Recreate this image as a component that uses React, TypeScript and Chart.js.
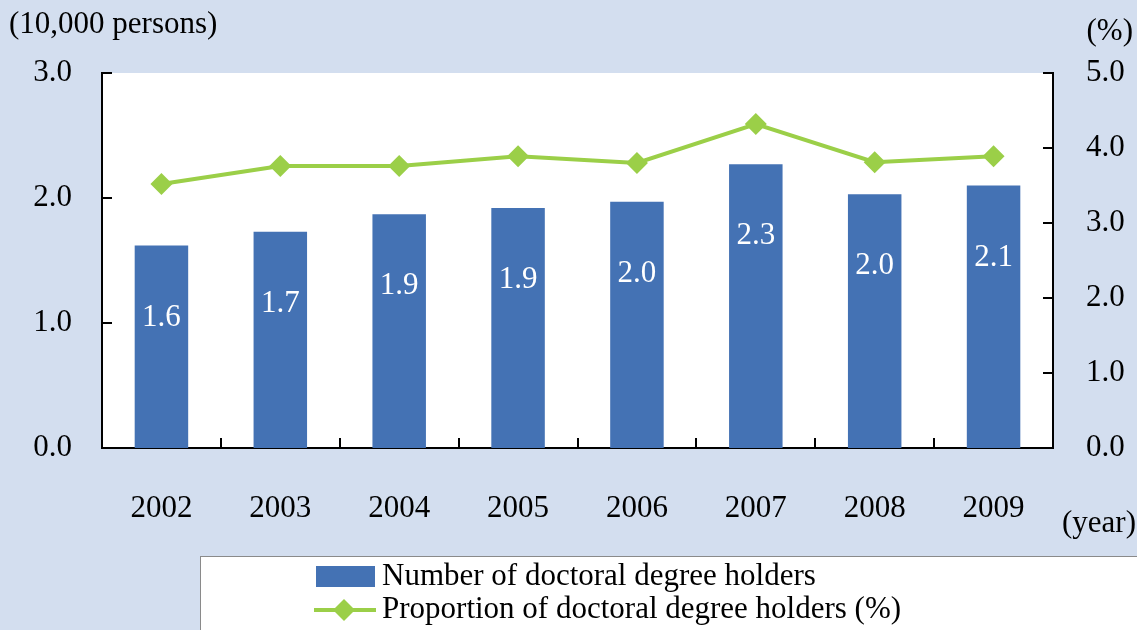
import React, { useEffect, useRef } from "react";
import { Chart, registerables } from "chart.js";
Chart.register(...registerables);

const years = ["2002", "2003", "2004", "2005", "2006", "2007", "2008", "2009"];
const holders = [1.62, 1.73, 1.87, 1.92, 1.97, 2.27, 2.03, 2.1];
const holderLabels = ["1.6", "1.7", "1.9", "1.9", "2.0", "2.3", "2.0", "2.1"];
const proportion = [3.52, 3.76, 3.76, 3.89, 3.8, 4.32, 3.81, 3.89];
const barLabel = "Number of doctoral degree holders";
const lineLabel = "Proportion of doctoral degree holders (%)";
const leftUnit = "(10,000 persons)";
const rightUnit = "(%)";
const xUnit = "(year)";

const BG = "#D3DEEF";
const BAR = "#4472B4";
const LINE = "#9BCF48";
const FONT = "Liberation Serif";
const FS = 31;

export default function App() {
  const ref = useRef<HTMLCanvasElement | null>(null);
  useEffect(() => {
    if (!ref.current) return;
    const font = { family: FONT, size: FS };
    const deco = {
      id: "deco",
      beforeDraw(chart: any) {
        const { ctx, chartArea: a } = chart;
        ctx.save();
        ctx.fillStyle = BG;
        ctx.fillRect(0, 0, chart.width, chart.height);
        ctx.fillStyle = "#fff";
        ctx.fillRect(a.left, a.top, a.right - a.left, a.bottom - a.top);
        ctx.restore();
      },
      afterDatasetsDraw(chart: any) {
        const { ctx } = chart;
        const meta = chart.getDatasetMeta(0);
        ctx.save();
        ctx.fillStyle = "#fff";
        ctx.font = `${FS}px "${FONT}"`;
        ctx.textAlign = "center";
        ctx.textBaseline = "middle";
        meta.data.forEach((el: any, i: number) => {
          ctx.fillText(holderLabels[i], el.x, el.y + 72);
        });
        ctx.restore();
      },
      afterDraw(chart: any) {
        const { ctx, chartArea: a, scales } = chart;
        ctx.save();
        ctx.strokeStyle = "#000";
        ctx.lineWidth = 2;
        ctx.beginPath();
        const n = years.length;
        const w = (a.right - a.left) / n;
        for (let i = 1; i < n; i++) {
          const x = Math.round(a.left + i * w);
          ctx.moveTo(x, a.bottom);
          ctx.lineTo(x, a.bottom - 10);
        }
        scales.y.ticks.forEach((t: any) => {
          const y = Math.round(scales.y.getPixelForValue(t.value));
          ctx.moveTo(a.left, y);
          ctx.lineTo(a.left + 10, y);
        });
        scales.y1.ticks.forEach((t: any) => {
          const y = Math.round(scales.y1.getPixelForValue(t.value));
          ctx.moveTo(a.right, y);
          ctx.lineTo(a.right - 10, y);
        });
        ctx.stroke();

        ctx.fillStyle = "#000";
        ctx.font = `${FS}px "${FONT}"`;
        ctx.textBaseline = "middle";
        ctx.textAlign = "left";
        ctx.fillText(leftUnit, 9, 25);
        ctx.fillText(xUnit, 1062, 524);
        ctx.textAlign = "right";
        ctx.fillText(rightUnit, 1133, 32);

        // legend
        ctx.fillStyle = "#fff";
        ctx.fillRect(200, 556, 1000, 100);
        ctx.strokeStyle = "#8a8a8a";
        ctx.lineWidth = 1;
        ctx.strokeRect(200.5, 556.5, 1000, 100);
        ctx.fillStyle = BAR;
        ctx.fillRect(316, 566, 59, 21);
        ctx.strokeStyle = LINE;
        ctx.lineWidth = 4;
        ctx.beginPath();
        ctx.moveTo(314, 610);
        ctx.lineTo(376, 610);
        ctx.stroke();
        ctx.fillStyle = LINE;
        ctx.beginPath();
        ctx.moveTo(344, 599);
        ctx.lineTo(355, 610);
        ctx.lineTo(344, 621);
        ctx.lineTo(333, 610);
        ctx.closePath();
        ctx.fill();
        ctx.fillStyle = "#000";
        ctx.textAlign = "left";
        ctx.fillText(barLabel, 382, 577);
        ctx.fillText(lineLabel, 382, 610);
        ctx.restore();
      },
    };
    const chart = new Chart(ref.current, {
      type: "bar",
      data: {
        labels: years,
        datasets: [
          {
            type: "bar",
            label: barLabel,
            data: holders,
            yAxisID: "y",
            backgroundColor: BAR,
            barPercentage: 0.45,
            categoryPercentage: 1,
            order: 1,
          },
          {
            type: "line",
            label: lineLabel,
            data: proportion,
            yAxisID: "y1",
            borderColor: LINE,
            backgroundColor: LINE,
            borderWidth: 4,
            pointStyle: "rectRot",
            pointRadius: 11,
            pointBorderWidth: 0,
            order: 0,
          },
        ] as any,
      },
      plugins: [deco],
      options: {
        responsive: false,
        animation: false,
        layout: { padding: { top: 73, bottom: 102, left: 0, right: 0 } },
        plugins: { legend: { display: false }, tooltip: { enabled: false } },
        scales: {
          x: {
            grid: { display: false },
            border: { display: true, color: "#000", width: 2 },
            ticks: { font, color: "#000", padding: 34 },
            afterFit: (s: any) => {
              s.height = 80;
            },
          },
          y: {
            position: "left",
            min: 0,
            max: 3,
            grid: { display: false },
            border: { display: true, color: "#000", width: 2 },
            ticks: {
              stepSize: 1,
              font,
              color: "#000",
              padding: 22,
              callback: (v: any) => Number(v).toFixed(1),
            },
            afterFit: (s: any) => {
              s.width = 102;
            },
          },
          y1: {
            position: "right",
            min: 0,
            max: 5,
            grid: { display: false },
            border: { display: true, color: "#000", width: 2 },
            ticks: {
              stepSize: 1,
              font,
              color: "#000",
              padding: 25,
              callback: (v: any) => Number(v).toFixed(1),
            },
            afterFit: (s: any) => {
              s.width = 84;
            },
          },
        },
      } as any,
    });
    return () => chart.destroy();
  }, []);
  return (
    <div style={{ position: "fixed", left: 0, top: 0, width: 1137, height: 630, background: BG, overflow: "hidden" }}>
      <canvas ref={ref} width={1137} height={630} style={{ display: "block" }} />
    </div>
  );
}
